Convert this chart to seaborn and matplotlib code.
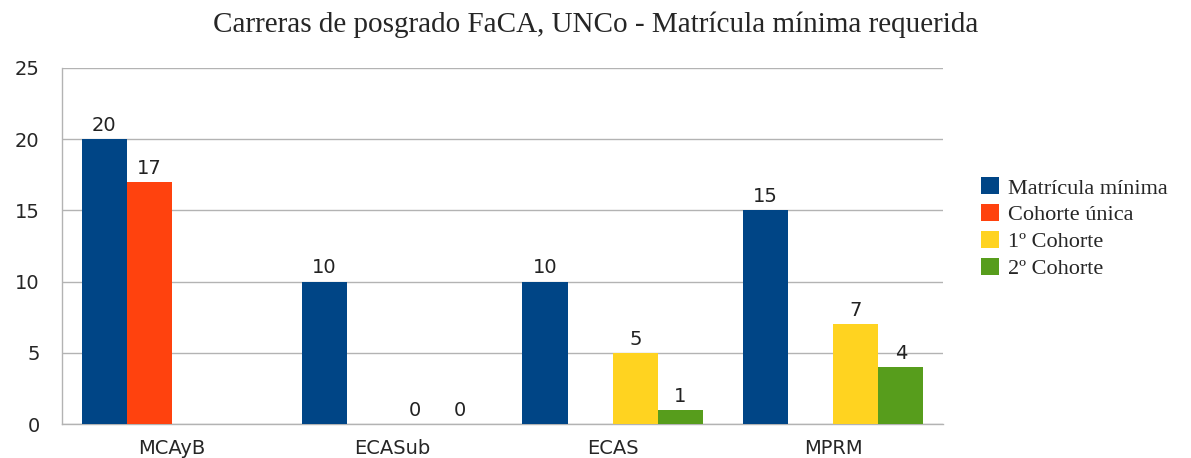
import numpy as np
import pandas as pd
import matplotlib
matplotlib.use('Agg')
import matplotlib.pyplot as plt
import seaborn as sns

# Datos del grafico
carreras = ['MCAyB', 'ECASub', 'ECAS', 'MPRM']
series = ['Matrícula mínima', 'Cohorte única', '1º Cohorte', '2º Cohorte']
matricula_minima = [20, 10, 10, 15]
cohorte_unica = [17, np.nan, np.nan, np.nan]
cohorte_1 = [np.nan, 0, 5, 7]
cohorte_2 = [np.nan, 0, 1, 4]
colores = ['#004586', '#ff420e', '#ffd320', '#579d1c']

rows = []
for nombre, vals in zip(series, [matricula_minima, cohorte_unica, cohorte_1, cohorte_2]):
    for c, v in zip(carreras, vals):
        rows.append({'carrera': c, 'serie': nombre, 'valor': v})
df = pd.DataFrame(rows)

sns.set_style('white')
plt.rcParams['font.family'] = ['DejaVu Sans']

fig = plt.figure(figsize=(11.91, 4.58), dpi=100)
ax = fig.add_axes([0.052, 0.074, 0.740, 0.778])

sns.barplot(data=df, x='carrera', y='valor', hue='serie', order=carreras,
            hue_order=series, palette=colores, width=0.82, saturation=1,
            errorbar=None, linewidth=0, ax=ax, zorder=3)

for cont in ax.containers:
    ax.bar_label(cont, fmt='%g', padding=3, fontsize=14, color='#222222')

ax.set_ylim(0, 25)
ax.set_xlim(-0.5, 3.5)
ax.set_yticks([0, 5, 10, 15, 20, 25])
ax.yaxis.grid(True, color='#b3b3b3', linewidth=1, zorder=0)
ax.set_axisbelow(True)
ax.set_xlabel('')
ax.set_ylabel('')

for s in ['top', 'right']:
    ax.spines[s].set_visible(False)
for s in ['left', 'bottom']:
    ax.spines[s].set_color('#b3b3b3')
    ax.spines[s].set_linewidth(1)

ax.tick_params(axis='y', which='major', length=13, color='#b3b3b3', labelsize=14, pad=3)
ax.tick_params(axis='x', which='major', length=0, labelsize=14, pad=11)
ax.set_xticks([-0.5, 0.5, 1.5, 2.5, 3.5], minor=True)
ax.tick_params(axis='x', which='minor', length=8, color='#b3b3b3', width=1)

ax.legend(loc='center left', bbox_to_anchor=(1.02, 0.55), frameon=False,
          prop={'family': 'Liberation Serif', 'size': 16},
          handlelength=0.8, handleheight=0.8, handletextpad=0.4, labelspacing=0.25)

fig.suptitle('Carreras de posgrado FaCA, UNCo - Matrícula mínima requerida',
             family='Liberation Serif', fontsize=21, y=0.975)

fig.savefig('out.png', dpi=100)
